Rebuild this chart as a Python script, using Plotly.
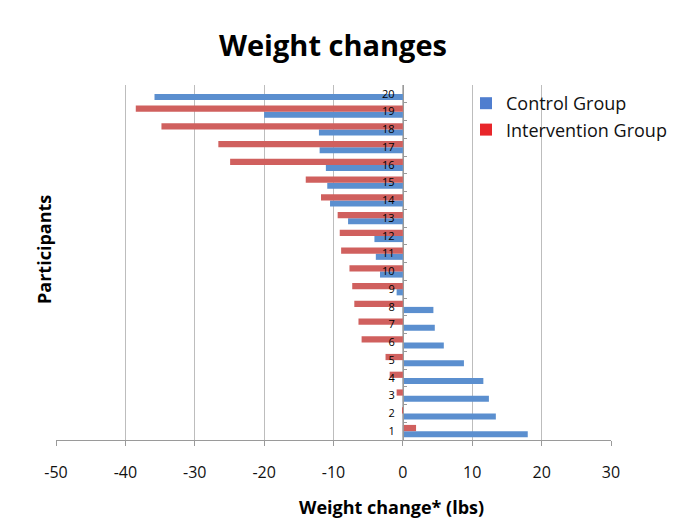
import plotly.graph_objects as go

participants = [str(i) for i in range(1, 21)]
control = [18.0, 13.4, 12.4, 11.6, 8.8, 5.9, 4.6, 4.4, -0.9, -3.3,
           -3.9, -4.1, -7.9, -10.5, -10.9, -11.1, -12.0, -12.1, -20.0, -35.8]
intervention = [1.9, 0.1, -0.9, -1.9, -2.5, -5.95, -6.4, -7.0, -7.3, -7.7,
                -8.9, -9.1, -9.4, -11.8, -14.0, -24.9, -26.6, -34.8, -38.5, 0]
x_ticks = [-50, -40, -30, -20, -10, 0, 10, 20, 30]
x_tick_text = ["-50", "-40", "-30", "-20", "-10", "0", "10", "20", "30"]

FONT = "Open Sans"
BLUE_BAR = "#5b8fcf"
RED_BAR = "#d0605e"

fig = go.Figure()
fig.add_trace(go.Bar(y=participants, x=control, orientation="h", name="Control Group",
                     marker=dict(color=BLUE_BAR, line=dict(width=0)), showlegend=False))
fig.add_trace(go.Bar(y=participants, x=intervention, orientation="h", name="Intervention Group",
                     marker=dict(color=RED_BAR, line=dict(width=0)), showlegend=False))
fig.add_trace(go.Scatter(x=[None], y=[None], mode="markers", name="Control Group",
                         marker=dict(symbol="square", size=12, color="#4f7ecf")))
fig.add_trace(go.Scatter(x=[None], y=[None], mode="markers", name="Intervention Group",
                         marker=dict(symbol="square", size=12, color="#e8262a")))

OFF = 8  # page body margin
W, H = 696, 523
L, T = 56 - OFF, 85 - OFF
pw, ph = 555, 355
R = W - L - pw
B = H - T - ph
xmin, xmax = -50, 30
ypos = (0 - xmin) / (xmax - xmin)

fig.update_layout(
    width=W, height=H,
    margin=dict(l=L, r=R, t=T, b=B),
    paper_bgcolor="white", plot_bgcolor="white",
    barmode="group", bargap=0.3, bargroupgap=0,
    font=dict(family=FONT, color="#111"),
    title=dict(text="<b>Weight changes</b>", x=(333 - OFF) / W, xanchor="center",
               y=1 - (46 - OFF) / H, yanchor="middle", font=dict(size=29, family=FONT, color="#000")),
    xaxis=dict(range=[xmin, xmax], tickvals=x_ticks, ticktext=x_tick_text, showgrid=True,
               gridcolor="#bdbdbd", gridwidth=1.3, zeroline=False, showline=True, linecolor="#9a9a9a",
               ticks="outside", ticklen=5, tickcolor="#9a9a9a", ticklabelstandoff=13,
               tickfont=dict(size=16, family=FONT, color="#111")),
    yaxis=dict(type="category", categoryorder="array", categoryarray=participants,
               anchor="free", position=ypos, showline=True, linecolor="#9a9a9a",
               showgrid=False, zeroline=False, ticks="inside", ticklen=3, tickcolor="#9a9a9a",
               tickson="boundaries", ticklabelstandoff=6,
               tickfont=dict(size=11, family=FONT, color="#000")),
    legend=dict(x=(466 - 56) / pw, y=1 - (85 - 85) / ph, xanchor="left", yanchor="top",
                font=dict(size=18, family=FONT, color="#111"), itemwidth=30,
                tracegroupgap=5, bgcolor="rgba(0,0,0,0)"),
    annotations=[
        dict(text="<b>Participants</b>", textangle=-90, x=(30 - 56) / pw, y=1 - (250 - 85) / ph,
             xref="paper", yref="paper", showarrow=False,
             font=dict(size=18, family=FONT, color="#000")),
        dict(text="<b>Weight change* (lbs)</b>", x=(391 - 56) / pw, y=1 - (507 - 85) / ph,
             xref="paper", yref="paper", showarrow=False, xanchor="center", yanchor="middle",
             font=dict(size=18, family=FONT, color="#000")),
    ],
)

fig.write_html("out.html")
